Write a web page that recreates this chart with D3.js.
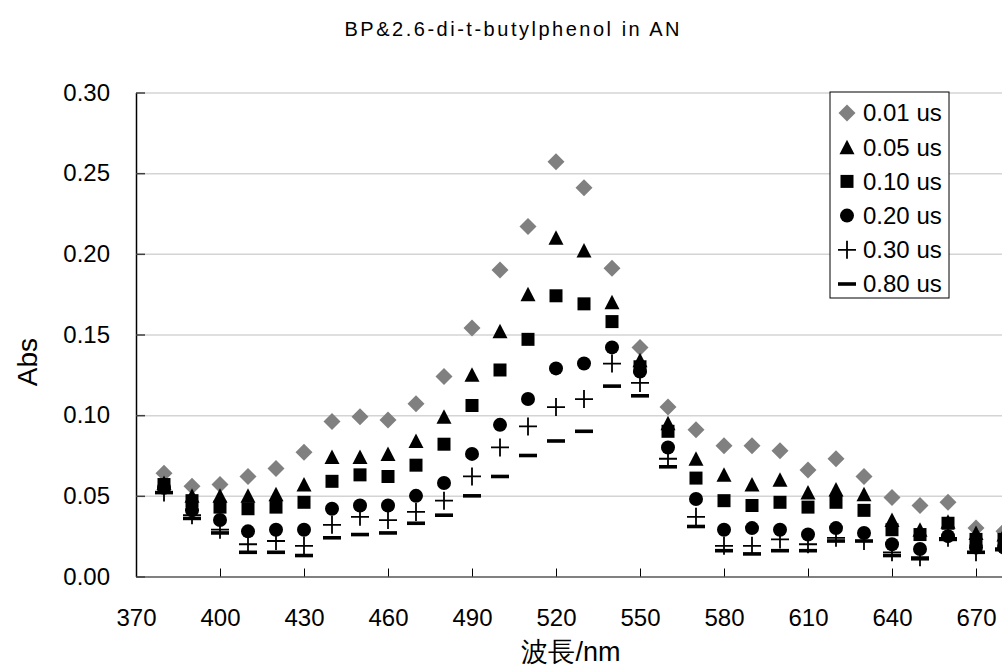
<!DOCTYPE html>
<html>
<head>
<meta charset="utf-8">
<script src="https://cdn.jsdelivr.net/npm/d3@7/dist/d3.min.js"></script>
<style>
  body { margin: 0; background: #fff; }
  svg text { font-family: "Liberation Sans", Arial, sans-serif; fill: #000; }
</style>
</head>
<body>
<div id="chart"></div>
<script>
// wavelengths (nm) of every measured point
const wavelengths = [380, 390, 400, 410, 420, 430, 440, 450, 460, 470, 480, 490, 500, 510, 520,
  530, 540, 550, 560, 570, 580, 590, 600, 610, 620, 630, 640, 650, 660, 670, 680];

// absorbance per delay time
const abs001 = [0.064, 0.056, 0.057, 0.062, 0.067, 0.077, 0.096, 0.099, 0.097, 0.107, 0.124, 0.154, 0.190, 0.217, 0.257,
  0.241, 0.191, 0.142, 0.105, 0.091, 0.081, 0.081, 0.078, 0.066, 0.073, 0.062, 0.049, 0.044, 0.046, 0.030, 0.028];
const abs005 = [0.058, 0.050, 0.050, 0.050, 0.051, 0.057, 0.074, 0.074, 0.076, 0.084, 0.099, 0.125, 0.152, 0.175, 0.210,
  0.202, 0.170, 0.134, 0.095, 0.073, 0.063, 0.057, 0.060, 0.052, 0.054, 0.051, 0.035, 0.029, 0.034, 0.027, 0.026];
const abs010 = [0.057, 0.047, 0.043, 0.042, 0.043, 0.046, 0.059, 0.063, 0.062, 0.069, 0.082, 0.106, 0.128, 0.147, 0.174,
  0.169, 0.158, 0.130, 0.090, 0.061, 0.047, 0.044, 0.046, 0.043, 0.046, 0.041, 0.029, 0.026, 0.033, 0.023, 0.023];
const abs020 = [0.055, 0.041, 0.035, 0.028, 0.029, 0.029, 0.042, 0.044, 0.044, 0.050, 0.058, 0.076, 0.094, 0.110, 0.129,
  0.132, 0.142, 0.127, 0.080, 0.048, 0.029, 0.030, 0.029, 0.026, 0.030, 0.027, 0.020, 0.017, 0.025, 0.018, 0.018];
const abs030 = [0.052, 0.038, 0.029, 0.020, 0.022, 0.019, 0.032, 0.037, 0.035, 0.040, 0.047, 0.062, 0.080, 0.093, 0.105,
  0.110, 0.132, 0.120, 0.073, 0.037, 0.019, 0.019, 0.023, 0.020, 0.024, 0.022, 0.015, 0.012, 0.024, 0.015, 0.016];
const abs080 = [0.052, 0.036, 0.027, 0.015, 0.015, 0.013, 0.024, 0.026, 0.027, 0.033, 0.038, 0.050, 0.062, 0.075, 0.084,
  0.090, 0.118, 0.112, 0.068, 0.031, 0.016, 0.014, 0.016, 0.016, 0.022, 0.022, 0.013, 0.011, 0.023, 0.015, 0.017];

const seriesLabels = ['0.01 us', '0.05 us', '0.10 us', '0.20 us', '0.30 us', '0.80 us'];
const seriesShapes = ['diamond', 'triangle', 'square', 'circle', 'plus', 'dash'];

const xTicks = [370, 400, 430, 460, 490, 520, 550, 580, 610, 640, 670];
const yTicks = [0, 0.05, 0.10, 0.15, 0.20, 0.25, 0.30];

class SpectrumChart {

  constructor(_config, _data) {
    this.config = {
      parentElement: _config.parentElement,
      containerWidth: 1002,
      containerHeight: 666,
      // plot runs past the right edge of the picture, as in the original
      margin: {top: 92.5, right: -58, bottom: 89.5, left: 136},
      legend: {x: 830, y: 92, width: 119, height: 206, rowHeight: 34.2}
    };
    this.data = _data;
    this.initVis();
  }

  initVis() {
    const vis = this;

    vis.config.width = vis.config.containerWidth - vis.config.margin.left - vis.config.margin.right;
    vis.config.height = vis.config.containerHeight - vis.config.margin.top - vis.config.margin.bottom;

    vis.svg = d3.select(vis.config.parentElement).append('svg')
        .attr('width', vis.config.containerWidth)
        .attr('height', vis.config.containerHeight);

    vis.chartArea = vis.svg.append('g')
        .attr('transform', `translate(${vis.config.margin.left},${vis.config.margin.top})`);

    vis.xScale = d3.scaleLinear()
        .domain([370, 700])
        .range([0, vis.config.width]);

    vis.yScale = d3.scaleLinear()
        .domain([0, 0.30])
        .range([vis.config.height, 0]);

    // gridlines
    vis.chartArea.append('g')
        .attr('class', 'grid')
        .call(d3.axisLeft(vis.yScale).tickValues(yTicks.slice(1)).tickSize(-vis.config.width).tickFormat(''))
        .call(g => g.select('.domain').remove())
        .call(g => g.selectAll('line').attr('stroke', '#d4d4d4').attr('stroke-width', 1.5));

    vis.xAxis = d3.axisBottom(vis.xScale)
        .tickValues(xTicks)
        .tickSizeInner(-8)
        .tickSizeOuter(0)
        .tickPadding(32)
        .tickFormat(d3.format('d'));

    vis.yAxis = d3.axisLeft(vis.yScale)
        .tickValues(yTicks)
        .tickSizeInner(-9)
        .tickSizeOuter(0)
        .tickPadding(26)
        .tickFormat(d3.format('.2f'));

    vis.xAxisG = vis.chartArea.append('g')
        .attr('class', 'axis x-axis')
        .attr('transform', `translate(0,${vis.config.height})`);

    vis.yAxisG = vis.chartArea.append('g')
        .attr('class', 'axis y-axis');

    vis.chart = vis.chartArea.append('g');

    // titles
    vis.svg.append('text')
        .attr('x', 512)
        .attr('y', 36)
        .attr('text-anchor', 'middle')
        .attr('font-size', 20)
        .attr('textLength', 335)
        .attr('lengthAdjust', 'spacing')
        .text('BP&2.6-di-t-butylphenol in AN');

    vis.svg.append('text')
        .attr('transform', 'translate(37,362) rotate(-90)')
        .attr('text-anchor', 'middle')
        .attr('font-size', 28)
        .text('Abs');

    vis.svg.append('text')
        .attr('x', 571)
        .attr('y', 661)
        .attr('text-anchor', 'middle')
        .attr('font-size', 27)
        .text('波長/nm');

    vis.renderVis();
    vis.renderLegend();
  }

  markerPath(shape) {
    switch (shape) {
      case 'diamond': return 'M0,-8.5L8.5,0L0,8.5L-8.5,0Z';
      case 'triangle': return 'M0,-7.5L7.5,7L-7.5,7Z';
      case 'square': return 'M-6.5,-6.5h13v13h-13Z';
      case 'circle': return d3.symbol(d3.symbolCircle, Math.PI * 49)();
      case 'plus': return 'M-9,0H9M0,-9V9';
      default: return 'M-9,0H9';
    }
  }

  styleMarker(sel, shape) {
    const vis = this;
    sel.attr('d', vis.markerPath(shape));
    if (shape === 'plus' || shape === 'dash') {
      sel.attr('fill', 'none')
          .attr('stroke', '#000')
          .attr('stroke-width', shape === 'plus' ? 1.8 : 3.6);
    } else {
      sel.attr('fill', shape === 'diamond' ? '#808080' : '#000')
          .attr('stroke', 'none');
    }
  }

  renderVis() {
    const vis = this;

    const series = vis.chart.selectAll('.series')
        .data(vis.data)
      .join('g')
        .attr('class', 'series');

    series.each(function(s) {
      d3.select(this).selectAll('path')
          .data(s.values.map((v, i) => ({x: wavelengths[i], y: v})))
        .join('path')
          .attr('transform', d => `translate(${vis.xScale(d.x)},${vis.yScale(d.y)})`)
          .call(sel => vis.styleMarker(sel, s.shape));
    });

    vis.xAxisG.call(vis.xAxis)
        .call(g => g.select('.domain').attr('stroke', '#808080').attr('stroke-width', 2))
        .call(g => g.selectAll('.tick line').attr('stroke', '#000'))
        .call(g => g.selectAll('.tick text').attr('font-size', 24).attr('font-family', null));

    vis.yAxisG.call(vis.yAxis)
        .call(g => g.select('.domain').attr('stroke', '#000').attr('stroke-width', 1.5))
        .call(g => g.selectAll('.tick line').attr('stroke', '#404040').attr('stroke-width', 1.5))
        .call(g => g.selectAll('.tick text').attr('font-size', 24).attr('font-family', null));
  }

  renderLegend() {
    const vis = this;
    const lg = vis.config.legend;

    vis.legend = vis.svg.append('g')
        .attr('transform', `translate(${lg.x},${lg.y})`);

    vis.legend.append('rect')
        .attr('width', lg.width)
        .attr('height', lg.height)
        .attr('fill', '#fff')
        .attr('stroke', '#000')
        .attr('stroke-width', 1);

    const item = vis.legend.selectAll('.legend-item')
        .data(vis.data)
      .join('g')
        .attr('class', 'legend-item')
        .attr('transform', (d, i) => `translate(0,${21 + i * lg.rowHeight})`);

    item.append('path')
        .attr('transform', 'translate(17,0)')
        .each(function(d) { vis.styleMarker(d3.select(this), d.shape); });

    item.append('text')
        .attr('x', 33)
        .attr('dy', '0.35em')
        .attr('font-size', 24)
        .text(d => d.label);
  }
}

const seriesData = [abs001, abs005, abs010, abs020, abs030, abs080].map((values, i) => ({
  label: seriesLabels[i],
  shape: seriesShapes[i],
  values: values
}));

const chart = new SpectrumChart({parentElement: '#chart'}, seriesData);
</script>
</body>
</html>
